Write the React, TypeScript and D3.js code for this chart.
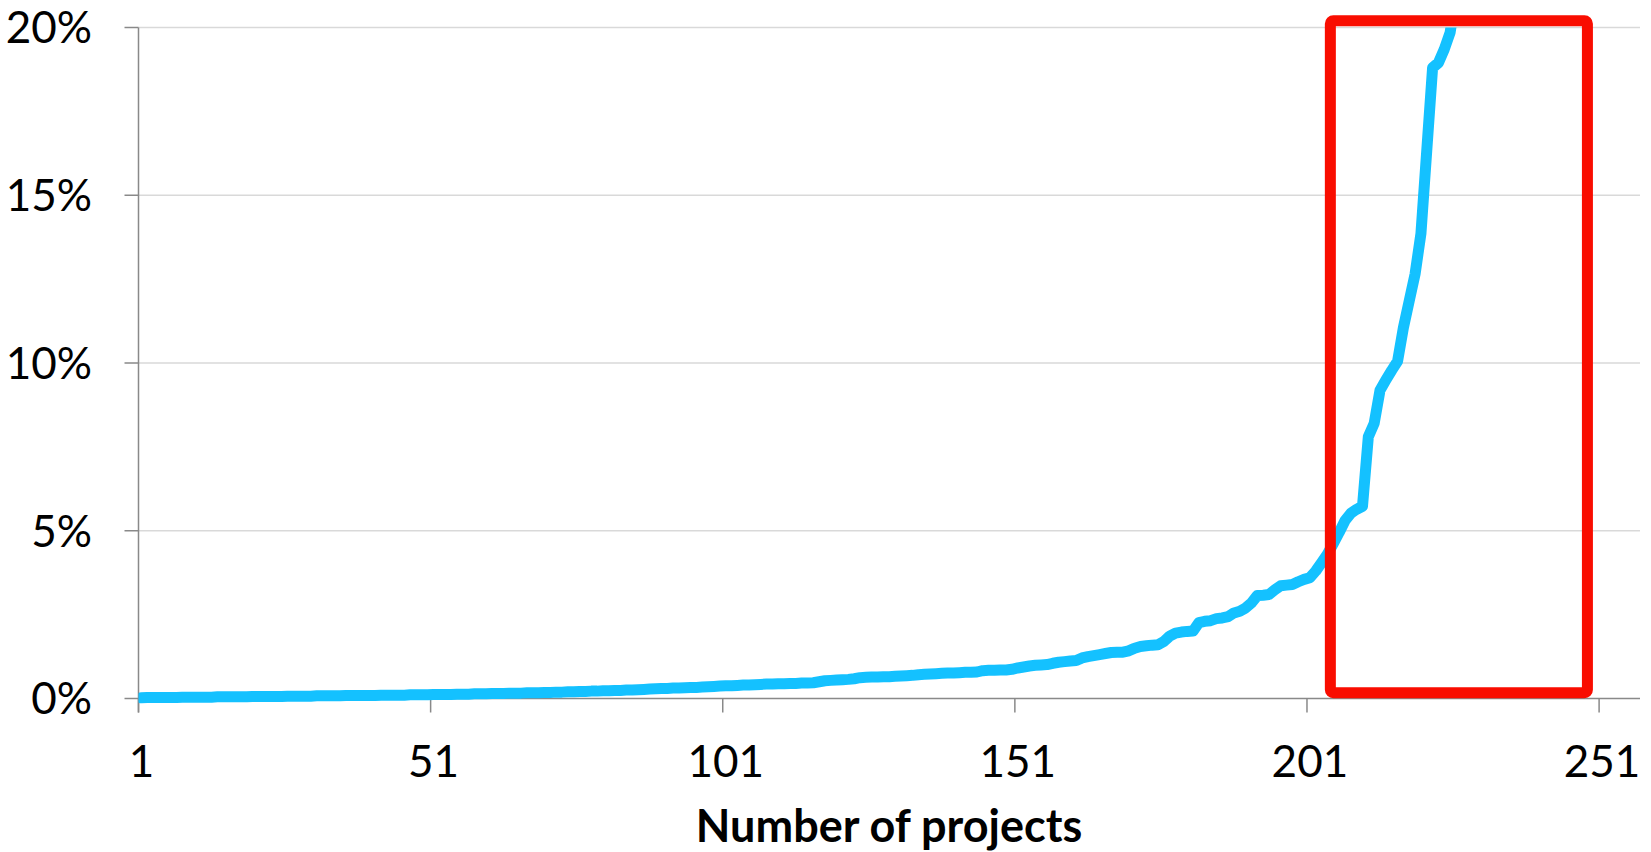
import React from 'react';
import * as d3 from 'd3';

// Share (%) per project, sorted ascending; values beyond ~20% run off the top of the chart
const shares = [
  0.02, 0.03, 0.03, 0.03, 0.03, 0.03, 0.03, 0.04, 0.04, 0.04,
  0.04, 0.04, 0.04, 0.05, 0.05, 0.05, 0.05, 0.05, 0.05, 0.06,
  0.06, 0.06, 0.06, 0.06, 0.06, 0.07, 0.07, 0.07, 0.07, 0.07,
  0.08, 0.08, 0.08, 0.08, 0.08, 0.09, 0.09, 0.09, 0.09, 0.09,
  0.09, 0.10, 0.10, 0.10, 0.10, 0.10, 0.11, 0.11, 0.11, 0.11,
  0.12, 0.12, 0.12, 0.12, 0.13, 0.13, 0.13, 0.14, 0.14, 0.14,
  0.15, 0.15, 0.15, 0.16, 0.16, 0.16, 0.17, 0.17, 0.17, 0.18,
  0.18, 0.19, 0.19, 0.20, 0.20, 0.21, 0.21, 0.22, 0.22, 0.23,
  0.23, 0.24, 0.24, 0.25, 0.25, 0.26, 0.27, 0.28, 0.29, 0.30,
  0.30, 0.31, 0.31, 0.32, 0.33, 0.33, 0.34, 0.35, 0.36, 0.37,
  0.38, 0.38, 0.39, 0.40, 0.40, 0.41, 0.42, 0.43, 0.43, 0.44,
  0.44, 0.45, 0.45, 0.46, 0.46, 0.47, 0.50, 0.53, 0.54, 0.55,
  0.56, 0.57, 0.59, 0.62, 0.63, 0.64, 0.64, 0.65, 0.65, 0.66,
  0.67, 0.68, 0.69, 0.71, 0.72, 0.73, 0.74, 0.75, 0.76, 0.76,
  0.77, 0.78, 0.78, 0.79, 0.83, 0.84, 0.84, 0.85, 0.85, 0.87,
  0.91, 0.94, 0.97, 0.99, 1.00, 1.01, 1.05, 1.08, 1.10, 1.12,
  1.13, 1.21, 1.25, 1.28, 1.31, 1.34, 1.37, 1.38, 1.38, 1.42,
  1.50, 1.55, 1.57, 1.59, 1.60, 1.70, 1.86, 1.95, 1.98, 2.00,
  2.01, 2.26, 2.30, 2.32, 2.38, 2.40, 2.44, 2.55, 2.60, 2.70,
  2.85, 3.07, 3.08, 3.10, 3.24, 3.36, 3.38, 3.40, 3.48, 3.55,
  3.60, 3.80, 4.05, 4.30, 4.62, 4.95, 5.30, 5.52, 5.64, 5.73,
  7.80, 8.20, 9.19, 9.49, 9.78, 10.05, 11.05, 11.85, 12.65, 13.85,
  16.33, 18.80, 18.95, 19.35, 19.85, 21.0,
];

const totalProjects = 257;
const xTickLabels = [1, 51, 101, 151, 201, 251];
const yTicks = [0, 5, 10, 15, 20];
const xTitle = 'Number of projects';

// highlighted range: project band edges and share bounds
const highlightProjects = [205, 249];
const highlightShares = [0.17, 20.2];

const W = 1651;
const H = 852;
const FONT = 'Lato, "Open Sans", sans-serif';

export default function App() {
  const plot = { left: 138.5, right: 1640, top: 27.5, bottom: 698.5 };

  const x = d3.scaleBand<number>()
    .domain(d3.range(1, totalProjects + 1))
    .range([plot.left, plot.right])
    .padding(0);
  const bw = x.bandwidth();
  const cx = (p: number) => (x(p) ?? 0) + bw / 2;

  const y = d3.scaleLinear().domain([0, 20]).range([plot.bottom, plot.top]);

  const line = d3.line<number>()
    .x((_, i) => cx(i + 1))
    .y(d => y(d));

  const axisColor = '#898989';
  const gridColor = '#d9d9d9';

  return (
    <svg width={W} height={H} style={{ position: 'absolute', left: 0, top: 0, background: '#fff' }}>
      <defs>
        <clipPath id="plotClip">
          <rect x={plot.left} y={plot.top} width={plot.right - plot.left + 20} height={H - plot.top} />
        </clipPath>
      </defs>

      {/* gridlines */}
      {yTicks.filter(t => t > 0).map(t => (
        <line key={t} x1={plot.left} x2={plot.right} y1={y(t)} y2={y(t)} stroke={gridColor} strokeWidth={1.5} />
      ))}

      {/* y axis */}
      <line x1={plot.left} x2={plot.left} y1={plot.top} y2={plot.bottom + 14} stroke={axisColor} strokeWidth={1.5} />
      {yTicks.map(t => (
        <g key={t}>
          <line x1={plot.left - 14} x2={plot.left} y1={y(t)} y2={y(t)} stroke={axisColor} strokeWidth={1.5} />
          <text x={92} y={y(t)} dy="0.36em" textAnchor="end" fontFamily={FONT} fontSize={44} fill="#000">
            {t}%
          </text>
        </g>
      ))}

      {/* x axis */}
      <line x1={plot.left} x2={plot.right} y1={plot.bottom} y2={plot.bottom} stroke={axisColor} strokeWidth={1.5} />
      {xTickLabels.map(p => (
        <g key={p}>
          <line x1={x(p)} x2={x(p)} y1={plot.bottom} y2={plot.bottom + 14} stroke={axisColor} strokeWidth={1.5} />
          <text x={cx(p)} y={777} textAnchor="middle" fontFamily={FONT} fontSize={44} fill="#000">
            {p}
          </text>
        </g>
      ))}
      <text x={889} y={842} textAnchor="middle" fontFamily={FONT} fontSize={45} fontWeight="bold" fill="#000">
        {xTitle}
      </text>

      {/* series */}
      <path
        d={line(shares) ?? ''}
        fill="none"
        stroke="#14c1ff"
        strokeWidth={11}
        strokeLinejoin="round"
        strokeLinecap="round"
        clipPath="url(#plotClip)"
      />

      {/* highlight box */}
      <rect
        x={x(highlightProjects[0])}
        y={y(highlightShares[1])}
        width={(x(highlightProjects[1]) ?? 0) - (x(highlightProjects[0]) ?? 0)}
        height={y(highlightShares[0]) - y(highlightShares[1])}
        fill="none"
        stroke="#f90d00"
        strokeWidth={11}
        rx={3}
      />
    </svg>
  );
}
